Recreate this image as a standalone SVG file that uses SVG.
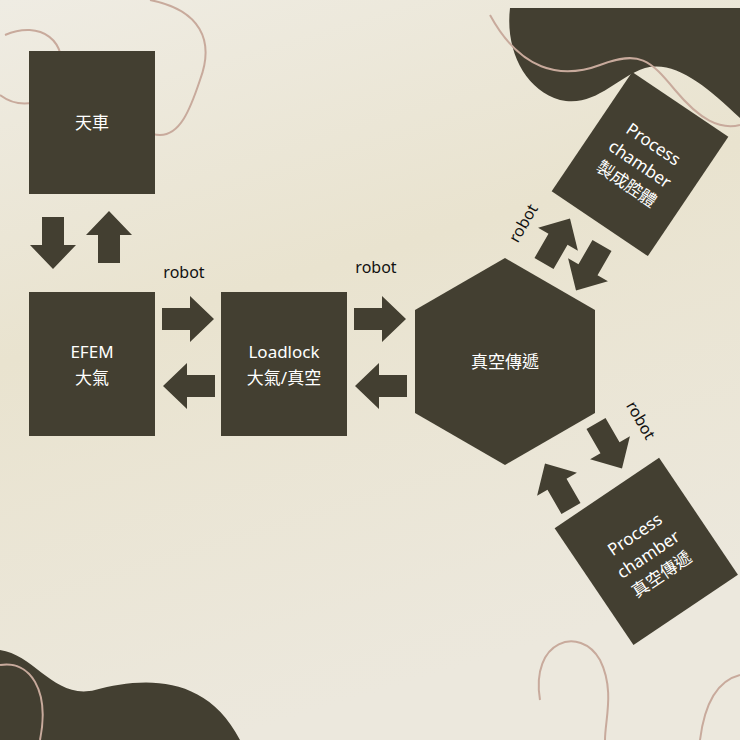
<svg xmlns="http://www.w3.org/2000/svg" width="740" height="740" viewBox="0 0 740 740">
<defs>
<linearGradient id="bg" x1="0" y1="0" x2="0.3" y2="1"><stop offset="0" stop-color="#efece3"/><stop offset="0.45" stop-color="#e9e3cf"/><stop offset="1" stop-color="#ece8dd"/></linearGradient>
<path id="arr" d="M-26,-11 L2,-11 L2,-23 L26,0 L2,23 L2,11 L-26,11 Z"/>
<style>
.n{fill:#433f31}
.a{fill:#433f31}
.t{font-family:"Noto Sans","Noto Sans CJK TC",sans-serif;font-size:17px;fill:#fff;text-anchor:middle}
.l{font-family:"Noto Sans",sans-serif;font-size:16px;fill:#111;text-anchor:middle}
.c{fill:none;stroke:#c8aa9c;stroke-width:2}
</style>
</defs>
<rect width="740" height="740" fill="url(#bg)"/>
<path class="n" d="M510,8 L740,8 L740,118 C705,85 675,60 645,68 C615,78 595,108 560,100 C525,90 505,50 510,8 Z"/>
<path class="n" d="M0,650 C35,655 55,700 95,690 C140,678 205,672 240,740 L0,740 Z"/>
<path class="c" d="M5,35 C40,20 70,40 60,80 C50,105 20,110 0,95"/>
<path class="c" d="M150,0 C200,10 215,40 200,80 C190,110 180,135 160,135 C140,135 125,110 140,70"/>
<path class="c" d="M490,15 C520,70 560,80 600,65 C640,50 650,60 675,90 C700,120 720,130 740,125"/>
<path class="c" d="M540,700 C530,640 580,625 600,660 C615,690 605,720 605,740"/>
<path class="c" d="M700,740 C705,700 720,680 740,675"/>
<path class="c" d="M0,665 C30,660 50,690 40,740"/>
<g id="connectors">
<use href="#arr" class="a" transform="translate(53,243) rotate(90)"/>
<use href="#arr" class="a" transform="translate(109,237) rotate(-90)"/>
<use href="#arr" class="a" transform="translate(188,319)"/>
<use href="#arr" class="a" transform="translate(189,386) rotate(180)"/>
<use href="#arr" class="a" transform="translate(380,319)"/>
<use href="#arr" class="a" transform="translate(381,386) rotate(180)"/>
<use href="#arr" class="a" transform="translate(557,241) rotate(-60)"/>
<use href="#arr" class="a" transform="translate(589,268) rotate(120)"/>
<use href="#arr" class="a" transform="translate(609,446) rotate(60)"/>
<use href="#arr" class="a" transform="translate(558,486) rotate(-120)"/>
<text class="l" x="184" y="278">robot</text>
<text class="l" x="376" y="273">robot</text>
<text class="l" transform="translate(528,226) rotate(-60)">robot</text>
<text class="l" transform="translate(636,423) rotate(60)">robot</text>
</g>
<g id="tianche"><rect class="n" x="29" y="51" width="126" height="143"/><text class="t" x="92" y="129">天車</text></g>
<g id="efem"><rect class="n" x="29" y="292" width="126" height="144"/><text class="t" x="92" y="358">EFEM</text><text class="t" x="92" y="384">大氣</text></g>
<g id="loadlock"><rect class="n" x="221" y="292" width="126" height="144"/><text class="t" x="284" y="358">Loadlock</text><text class="t" x="284" y="384">大氣/真空</text></g>
<g id="transfer"><polygon class="n" points="505,258 595,310 595,413 505,465 415,413 415,310"/><text class="t" x="505" y="368">真空傳遞</text></g>
<g id="pc1" transform="translate(640,164) rotate(34)"><rect class="n" x="-58" y="-72" width="116" height="144"/><text class="t" y="-18">Process</text><text class="t" y="6">chamber</text><text class="t" y="30">製成腔體</text></g>
<g id="pc2" transform="translate(646,551) rotate(-34)"><rect class="n" x="-63" y="-70" width="126" height="141"/><text class="t" y="-14">Process</text><text class="t" y="10">chamber</text><text class="t" y="34">真空傳遞</text></g>
</svg>
